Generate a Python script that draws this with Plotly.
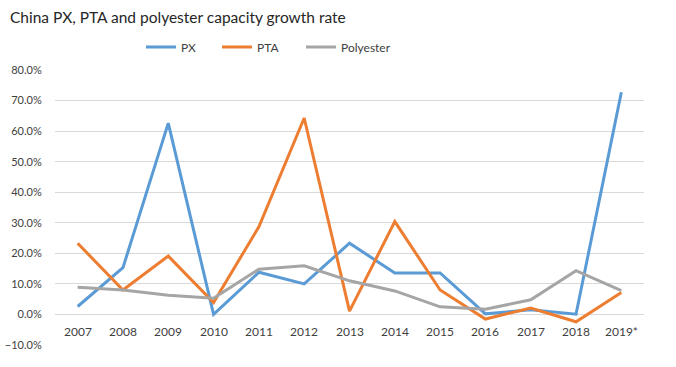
import plotly.graph_objects as go

years = ["2007", "2008", "2009", "2010", "2011", "2012", "2013",
         "2014", "2015", "2016", "2017", "2018", "2019*"]
px_vals = [2.6, 15.3, 62.6, 0.0, 13.8, 10.0, 23.3, 13.6, 13.6, 0.2, 1.5, 0.1, 72.7]
pta_vals = [23.3, 8.0, 19.1, 3.9, 28.7, 64.3, 1.1, 30.4, 8.0, -1.5, 2.1, -2.4, 7.2]
poly_vals = [8.9, 8.0, 6.3, 5.3, 14.8, 15.9, 11.0, 7.7, 2.5, 1.7, 4.8, 14.3, 7.8]
y_ticks = [-10, 0, 10, 20, 30, 40, 50, 60, 70, 80]

FONT = "Lato"
TXT = "#404040"

W, H = 676, 367
L, R, T, B = 55, 32, 70, 22
PH = H - T - B
PW = W - L - R

fig = go.Figure()
series = [("PX", px_vals, "#5B9BD5", "legend", 141),
          ("PTA", pta_vals, "#ED7D31", "legend2", 217),
          ("Polyester", poly_vals, "#A5A5A5", "legend3", 301)]
leg_y = (H - B - 47) / PH
legends = {}
for name, vals, col, leg, lx in series:
    fig.add_trace(go.Scatter(
        x=list(range(len(years))), y=[v / 100 for v in vals], name=name,
        mode="lines", line=dict(color=col, width=3), hoverinfo="skip",
        legend=leg))
    legends[leg] = dict(orientation="h", x=(lx - L) / PW, xanchor="left",
                        y=leg_y, yanchor="middle",
                        font=dict(family=FONT, size=12, color=TXT),
                        bgcolor="rgba(0,0,0,0)")

# category labels sit just under the 0% line (Excel axis crossing at 0)
for i, yr in enumerate(years):
    fig.add_annotation(x=i, y=0, xref="x", yref="y", text=yr, showarrow=False,
                       yshift=-17, font=dict(family=FONT, size=12, color=TXT))

fig.update_layout(
    width=W, height=H,
    margin=dict(l=L, r=R, t=T, b=B, autoexpand=False),
    paper_bgcolor="white", plot_bgcolor="white",
    title=dict(text="China PX, PTA and polyester capacity growth rate",
               x=10 / W, xanchor="left", y=1 - 18 / H, yanchor="middle",
               font=dict(family=FONT, size=15.5, color="#262626")),
    xaxis=dict(range=[-0.5, 12.5], showticklabels=False,
               showgrid=False, zeroline=False, showline=False, fixedrange=True),
    yaxis=dict(range=[-0.1, 0.8], tickvals=[t / 100 for t in y_ticks],
               tickformat=".1%", showgrid=True, gridcolor="#D9D9D9", gridwidth=1,
               zeroline=False, showline=False, ticks="outside", ticklen=10,
               tickcolor="rgba(0,0,0,0)", fixedrange=True,
               tickfont=dict(family=FONT, size=11, color=TXT)),
    showlegend=True,
    hovermode=False,
    **legends,
)

fig.write_html("out.html",
               config={"displayModeBar": False, "staticPlot": True},
               post_script="document.body.style.margin='0px';")
